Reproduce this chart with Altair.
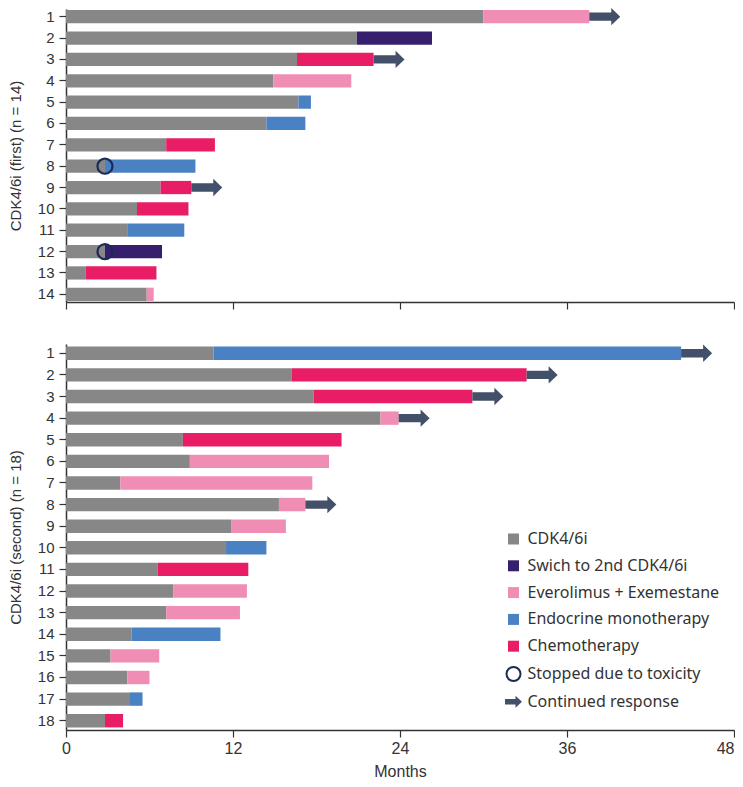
import altair as alt
import pandas as pd

# ---------------- data ----------------
CATS = ["CDK4/6i", "Swich to 2nd CDK4/6i", "Everolimus + Exemestane",
        "Endocrine monotherapy", "Chemotherapy",
        "Stopped due to toxicity", "Continued response"]

# first-line CDK4/6i cohort (n = 14)
first_gray = [30.0, 20.9, 16.6, 14.9, 16.7, 14.4, 7.2, 2.8, 6.8, 5.1, 4.4, 2.8, 1.4, 5.8]
first_end = [37.6, 26.3, 22.1, 20.5, 17.6, 17.2, 10.7, 9.3, 9.0, 8.8, 8.5, 6.9, 6.5, 6.3]
first_next = ["Everolimus + Exemestane", "Swich to 2nd CDK4/6i", "Chemotherapy",
              "Everolimus + Exemestane", "Endocrine monotherapy", "Endocrine monotherapy",
              "Chemotherapy", "Endocrine monotherapy", "Chemotherapy", "Chemotherapy",
              "Endocrine monotherapy", "Swich to 2nd CDK4/6i", "Chemotherapy",
              "Everolimus + Exemestane"]
first_continued = [1, 3, 9]
first_toxicity = [8, 12]

# second-line CDK4/6i cohort (n = 18)
second_gray = [10.6, 16.2, 17.8, 22.6, 8.4, 8.9, 3.9, 15.3, 11.9, 11.5, 6.6, 7.7, 7.2, 4.7,
               3.2, 4.4, 4.6, 2.8]
second_end = [44.2, 33.1, 29.2, 23.9, 19.8, 18.9, 17.7, 17.2, 15.8, 14.4, 13.1, 13.0, 12.5,
              11.1, 6.7, 6.0, 5.5, 4.1]
second_next = ["Endocrine monotherapy", "Chemotherapy", "Chemotherapy",
               "Everolimus + Exemestane", "Chemotherapy", "Everolimus + Exemestane",
               "Everolimus + Exemestane", "Everolimus + Exemestane", "Everolimus + Exemestane",
               "Endocrine monotherapy", "Chemotherapy", "Everolimus + Exemestane",
               "Everolimus + Exemestane", "Endocrine monotherapy", "Everolimus + Exemestane",
               "Everolimus + Exemestane", "Endocrine monotherapy", "Chemotherapy"]
second_continued = [1, 2, 3, 4, 8]
second_toxicity = []

x_ticks = [0, 12, 24, 36, 48]

# ---------------- styles ----------------
FILLS = ["#878787", "#361f6c", "#f08db5", "#4a81c2", "#e91c66", "#ffffff", "#435069"]
STROKES = ["transparent"] * 5 + ["#1c2b55", "transparent"]
SQ = "M-1.1,-1.1H1.1V1.1H-1.1Z"
CIRC = "M1.4,0A1.4,1.4,0,1,1,-1.4,0A1.4,1.4,0,1,1,1.4,0Z"
ARR_LEG = "M-1.7,-0.55L0.4,-0.55L0.4,-1.2L1.7,0L0.4,1.2L0.4,0.55L-1.7,0.55Z"
SHAPES = [SQ, SQ, SQ, SQ, SQ, CIRC, ARR_LEG]
ARROW = "M-1,-0.27L0.42,-0.27L0.42,-0.56L1,0L0.42,0.56L0.42,0.27L-1,0.27Z"
ARROW_COLOR = "#435069"
TOX_COLOR = "#1c2b55"

WIDTH = 668
FONT = "Liberation Sans, Arial, Helvetica, sans-serif"


def segments(gray, end, nxt):
    rows = []
    for i, (g, e, t) in enumerate(zip(gray, end, nxt)):
        p = str(i + 1)
        rows.append({"patient": p, "start": 0.0, "end": g, "treatment": "CDK4/6i"})
        rows.append({"patient": p, "start": g, "end": e, "treatment": t})
    return pd.DataFrame(rows)


def panel(gray, end, nxt, continued, toxicity, title, height, bottom, pad_outer):
    order = [str(i + 1) for i in range(len(gray))]
    xs = alt.Scale(domain=[0, 48], nice=False, zero=False)
    ys = alt.Scale(paddingInner=0.38, paddingOuter=pad_outer)
    if bottom:
        xaxis = alt.Axis(values=x_ticks, title="Months", labelFont=FONT, labelFontSize=16,
                         labelPadding=3, titleFont=FONT, titleFontSize=16,
                         titlePadding=7, labelFlush=False,
                         labelAlign={"condition": {"test": "datum.value == 48", "value": "right"},
                                     "value": "center"})
    else:
        xaxis = alt.Axis(values=x_ticks, title=None, labels=False)
    yaxis = alt.Axis(title=title, titlePadding=14, labelPadding=5)
    y = alt.Y("patient:O", sort=order, scale=ys, axis=yaxis)

    fill_scale = alt.Scale(domain=CATS, range=FILLS)
    if bottom:
        leg = alt.Legend(title=None, orient="none", legendX=439.5, legendY=187,
                         symbolSize=100, symbolStrokeWidth=2, labelFont="Noto Sans",
                         labelFontSize=16, labelColor="#333333", rowPadding=6.8,
                         labelOffset=6, padding=0, labelLimit=400)
    else:
        leg = None

    seg = segments(gray, end, nxt)
    bars = alt.Chart(seg).mark_bar().encode(
        x=alt.X("start:Q", scale=xs, axis=xaxis),
        x2="end:Q",
        y=y,
        fill=alt.Fill("treatment:N", scale=fill_scale, legend=leg),
    )
    layers = [bars]

    if continued:
        adf = pd.DataFrame({"patient": [str(k) for k in continued],
                            "x": [end[k - 1] for k in continued]})
        layers.append(alt.Chart(adf).mark_point(
            shape=ARROW, filled=True, color=ARROW_COLOR, size=961, opacity=1,
            strokeWidth=0, xOffset=15.5).encode(x="x:Q", y=y))
    if toxicity:
        tdf = pd.DataFrame({"patient": [str(k) for k in toxicity],
                            "x": [gray[k - 1] for k in toxicity]})
        layers.append(alt.Chart(tdf).mark_point(
            shape="circle", filled=False, color=TOX_COLOR, size=225, opacity=1,
            strokeWidth=2.2).encode(x="x:Q", y=y))
    if bottom:
        ldf = pd.DataFrame({"treatment": CATS, "x": [-10] * len(CATS), "patient": ["1"] * len(CATS)})
        layers.append(alt.Chart(ldf).mark_point(filled=True, opacity=1, clip=True, size=100).encode(
            x="x:Q", y=y,
            fill=alt.Fill("treatment:N", scale=fill_scale, legend=leg),
            stroke=alt.Stroke("treatment:N", scale=alt.Scale(domain=CATS, range=STROKES), legend=leg),
            shape=alt.Shape("treatment:N", scale=alt.Scale(domain=CATS, range=SHAPES), legend=leg),
        ))
    return alt.layer(*layers).properties(width=WIDTH, height=height)


top = panel(first_gray, first_end, first_next, first_continued, first_toxicity,
            "CDK4/6i (first) (n = 14)", 293, False, 0.05)
bottom = panel(second_gray, second_end, second_next, second_continued, second_toxicity,
               "CDK4/6i (second) (n = 18)", 386, True, 0.12)

chart = alt.vconcat(top, bottom, spacing=34).resolve_scale(
    fill="independent", stroke="independent", shape="independent"
).resolve_legend(fill="independent", stroke="independent", shape="independent").properties(
    padding=0
).configure_view(stroke=None).configure_axis(
    grid=False, domainColor="#333333", domainWidth=1.5, tickColor="#333333", tickWidth=1.2,
    tickSize=7, labelFont=FONT, labelFontSize=15, labelColor="#333333",
    titleFont=FONT, titleFontSize=15, titleFontWeight="normal", titleColor="#333333",
)

chart.save("out.html", embed_options={"renderer": "svg", "actions": False})
